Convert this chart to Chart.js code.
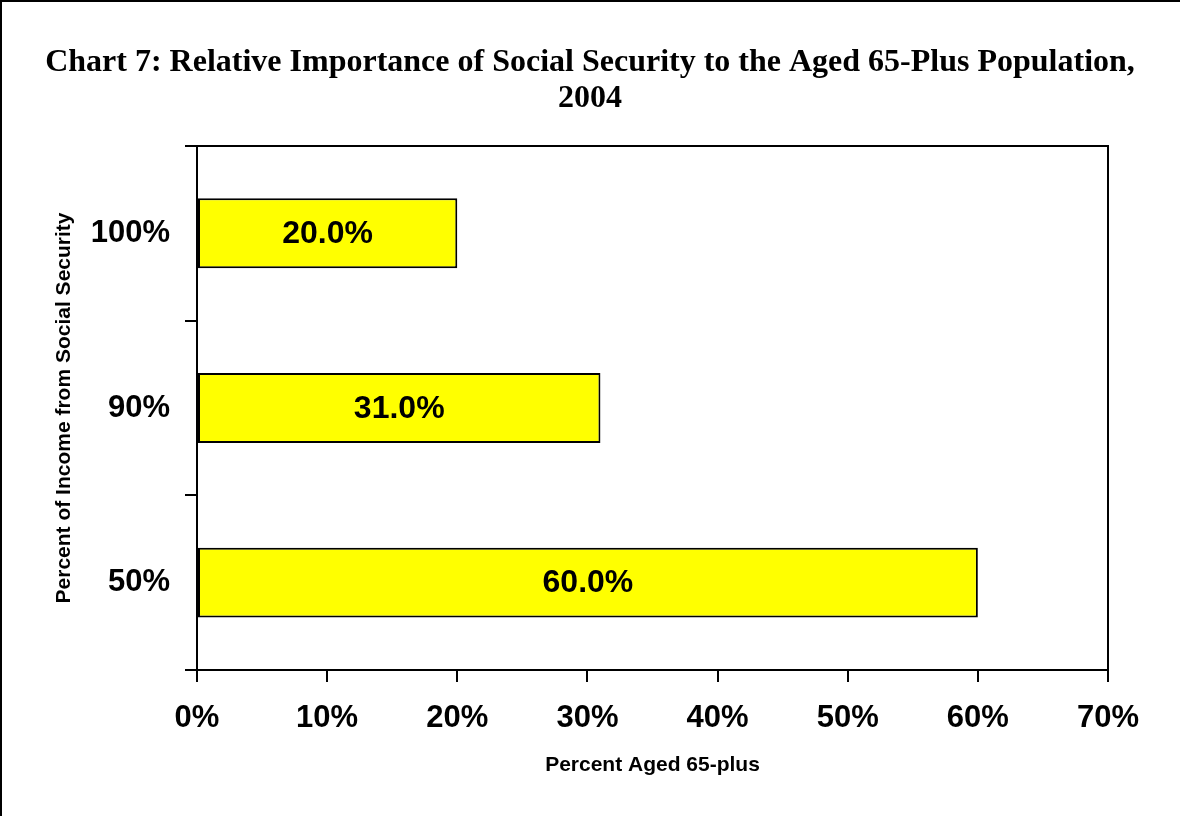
<!DOCTYPE html>
<html>
<head>
<meta charset="utf-8">
<script src="https://cdn.jsdelivr.net/npm/chart.js@4"></script>
<style>
  body { margin: 0; background: #fff; }
  canvas { display: block; }
</style>
</head>
<body>
<canvas id="chart" width="1180" height="816"></canvas>
<script>
// share of income coming from Social Security (rows, top to bottom)
const incomeShares = ["100%", "90%", "50%"];
// percent of the aged 65+ population in each row
const agedPercent = [20.0, 31.0, 60.0];
// x axis range and step
const xMin = 0;
const xMax = 70;
const xStep = 10;

const titleLines = [
  "Chart 7: Relative Importance of Social Security to the Aged 65-Plus Population,",
  "2004"
];

const sans = "'Liberation Sans', Arial, sans-serif";
const serif = "'Liberation Serif', 'Times New Roman', serif";

Chart.defaults.color = "#000";

// white page, frame along top and left, box round the plot area
const framePlugin = {
  id: "frame",
  beforeDraw(chart) {
    const ctx = chart.ctx;
    ctx.save();
    ctx.fillStyle = "#fff";
    ctx.fillRect(0, 0, chart.width, chart.height);
    ctx.strokeStyle = "#000";
    ctx.lineWidth = 2;
    ctx.beginPath();
    ctx.moveTo(1, chart.height);
    ctx.lineTo(1, 1);
    ctx.lineTo(chart.width, 1);
    ctx.stroke();
    ctx.restore();
  },
  afterDraw(chart) {
    const a = chart.chartArea;
    const ctx = chart.ctx;
    ctx.save();
    ctx.strokeStyle = "#000";
    ctx.lineWidth = 2;
    ctx.beginPath();
    ctx.moveTo(a.left, a.top);
    ctx.lineTo(a.right, a.top);
    ctx.lineTo(a.right, a.bottom);
    ctx.stroke();
    ctx.restore();
  }
};

// value written in the middle of each bar
const barLabels = {
  id: "barLabels",
  afterDatasetsDraw(chart) {
    const ctx = chart.ctx;
    const meta = chart.getDatasetMeta(0);
    ctx.save();
    ctx.font = "bold 32px " + sans;
    ctx.fillStyle = "#000";
    ctx.textAlign = "center";
    ctx.textBaseline = "middle";
    meta.data.forEach((bar, i) => {
      const v = chart.data.datasets[0].data[i];
      ctx.fillText(v.toFixed(1) + "%", (bar.x + bar.base) / 2, bar.y + 1);
    });
    ctx.restore();
  }
};

new Chart(document.getElementById("chart"), {
  type: "bar",
  data: {
    labels: incomeShares,
    datasets: [{
      data: agedPercent,
      backgroundColor: "#ffff00",
      borderColor: "#000",
      borderWidth: 2,
      borderSkipped: false,
      barPercentage: 0.4,
      categoryPercentage: 1.0
    }]
  },
  options: {
    indexAxis: "y",
    responsive: false,
    animation: false,
    layout: { padding: 0 },
    plugins: {
      legend: { display: false },
      tooltip: { enabled: false },
      title: {
        display: true,
        text: titleLines,
        color: "#000",
        font: { family: serif, size: 32, weight: "bold", lineHeight: 1.14 },
        padding: { top: 44, bottom: 29 }
      }
    },
    scales: {
      x: {
        min: xMin,
        max: xMax,
        afterFit(scale) { scale.height = 146; },
        ticks: {
          stepSize: xStep,
          padding: 18,
          font: { family: sans, size: 31, weight: "bold" },
          callback: v => v + "%"
        },
        grid: {
          drawOnChartArea: false,
          drawTicks: true,
          tickLength: 12,
          color: "#000",
          lineWidth: 2
        },
        border: { display: true, color: "#000", width: 2 },
        title: {
          display: true,
          text: "Percent Aged 65-plus",
          font: { family: sans, size: 21, weight: "bold" },
          padding: { top: 0, bottom: 38 }
        }
      },
      y: {
        afterFit(scale) { scale.width = 197; },
        ticks: {
          padding: 15,
          font: { family: sans, size: 31, weight: "bold" }
        },
        grid: {
          offset: true,
          drawOnChartArea: false,
          drawTicks: true,
          tickLength: 12,
          color: "#000",
          lineWidth: 2
        },
        border: { display: true, color: "#000", width: 2 },
        title: {
          display: true,
          text: "Percent of Income from Social Security",
          font: { family: sans, size: 21, weight: "bold" },
          padding: { top: 52, bottom: 0 }
        }
      },
      // empty strip on the right so the plot ends where the page margin starts
      yRight: {
        type: "category",
        position: "right",
        afterFit(scale) { scale.width = 72; },
        ticks: { display: false },
        grid: { display: false },
        border: { display: false }
      }
    }
  },
  plugins: [framePlugin, barLabels]
});
</script>
</body>
</html>
